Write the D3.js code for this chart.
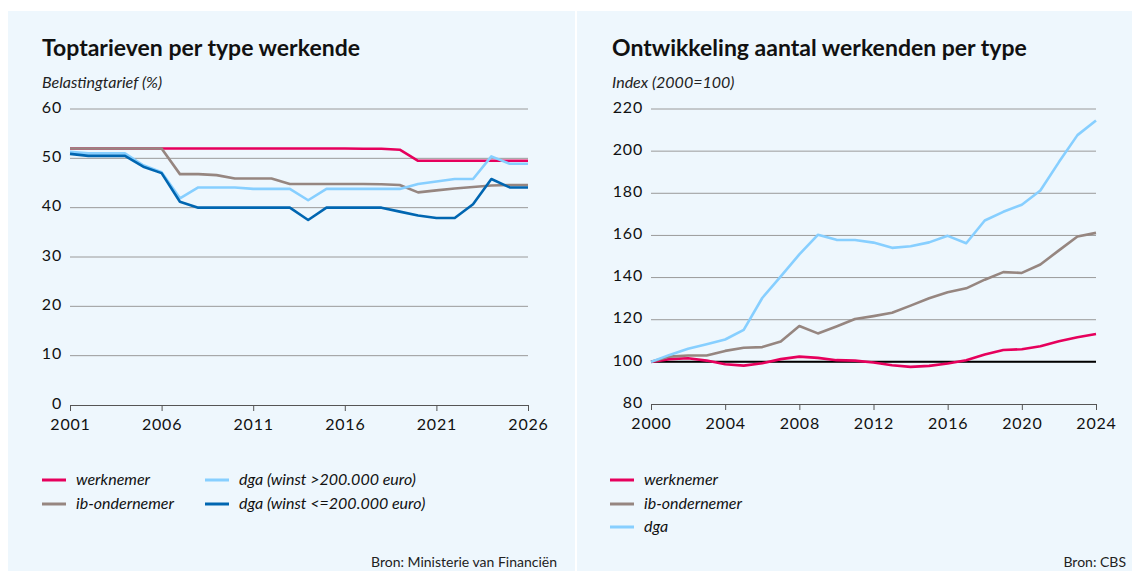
<!DOCTYPE html>
<html>
<head>
<meta charset="utf-8">
<script src="https://cdn.jsdelivr.net/npm/d3@7"></script>
<style>
  body { margin: 0; background: #fff; }
  svg { display: block; font-family: Lato, "Open Sans", sans-serif; }
</style>
</head>
<body>
<div class="charts"></div>
<script>
// linker grafiek: toptarieven (%)
var taxYears = d3.range(2001, 2027);
var taxWerknemer = [52,52,52,52,52,52,52,52,52,52,52,52,52,52,52,52,51.95,51.95,51.75,49.5,49.5,49.5,49.5,49.5,49.5,49.5];
var taxIb = [52,52,52,52,52,52,46.8,46.8,46.6,45.9,45.9,45.9,44.8,44.8,44.8,44.8,44.8,44.75,44.6,43.1,43.5,43.9,44.2,44.5,44.6,44.6];
var taxDgaHoog = [51.3,51,51,51,48.6,47.2,41.9,44.1,44.1,44.1,43.8,43.8,43.8,41.5,43.8,43.8,43.8,43.8,43.8,44.8,45.3,45.8,45.8,50.4,48.9,48.9];
var taxDgaLaag = [50.9,50.5,50.5,50.5,48.3,47,41.2,40,40,40,40,40,40,37.5,40,40,40,40,39.2,38.4,37.9,37.9,40.7,45.8,44.1,44.1];
var taxTicks = [0,10,20,30,40,50,60];
var taxYearTicks = [2001,2006,2011,2016,2021,2026];

// rechter grafiek: index aantal werkenden (2000=100)
var idxYears = d3.range(2000, 2025);
var idxWerknemer = [100,101.3,101.7,100.6,98.9,98.2,99.3,101.3,102.5,101.9,100.8,100.6,99.7,98.4,97.6,98.1,99.2,100.8,103.5,105.6,106,107.4,109.8,111.7,113.2];
var idxIb = [100,102.5,103,103,105.2,106.7,107,109.7,117,113.5,116.8,120.3,121.7,123.3,126.7,130.2,133,134.9,139,142.6,142.2,146.2,152.9,159.5,161.2];
var idxDga = [100,103.3,106.2,108.4,110.6,115.2,130.3,140.6,151,160.3,157.9,157.8,156.6,154.1,154.9,156.7,159.8,156.3,167.1,171.2,174.6,181.3,194.8,207.6,214.5];
var idxTicks = [80,100,120,140,160,180,200,220];
var idxYearTicks = [2000,2004,2008,2012,2016,2020,2024];

var colors = {werknemer:'#e6005c', ib:'#968680', dgaHoog:'#87cfff', dgaLaag:'#0066b1'};

var W = 1132, H = 571;
var svg = d3.select('div.charts').append('svg')
		.attr('width', W)
		.attr('height', H);

function panel(opt){
	var g = svg.append('g');
	g.append('rect')
		.attr('x', opt.bx).attr('y', 11)
		.attr('width', opt.bw).attr('height', H-11)
		.attr('fill', '#eef7fd');

	g.append('text')
		.attr('x', opt.tx).attr('y', 56)
		.attr('font-size', '23px').attr('font-weight', 'bold')
		.attr('fill', '#111')
		.text(opt.title);
	g.append('text')
		.attr('x', opt.tx).attr('y', 88)
		.attr('font-size', '16px').attr('font-style', 'italic')
		.attr('fill', '#222')
		.text(opt.unit);

	var x = d3.scaleLinear().domain(opt.xDomain).range([opt.x0, opt.x1]);
	var y = d3.scaleLinear().domain(opt.yDomain).range([opt.y0, opt.y1]);

	// rasterlijnen
	g.append('g')
		.selectAll('line')
		.data(opt.yTicks.slice(1))
		.enter()
		.append('line')
		.attr('x1', opt.x0).attr('x2', opt.x1)
		.attr('y1', function(d){ return y(d); })
		.attr('y2', function(d){ return y(d); })
		.attr('stroke', '#9a9a9a').attr('stroke-width', 1);

	var yAxis = g.append('g')
		.attr('transform', 'translate(' + opt.x0 + ',0)')
		.call(d3.axisLeft(y).tickValues(opt.yTicks).tickSize(0).tickPadding(8));
	yAxis.select('.domain').remove();
	yAxis.selectAll('.tick text').attr('dy', '0.2em');

	var xAxis = g.append('g')
		.attr('transform', 'translate(0,' + opt.y0 + ')')
		.call(d3.axisBottom(x).tickValues(opt.xTicks).tickFormat(d3.format('d')).tickSize(6).tickSizeOuter(0).tickPadding(8));
	xAxis.select('.domain').attr('stroke', '#555').attr('stroke-width', 1.2);
	xAxis.selectAll('.tick line').attr('stroke', '#555');

	g.selectAll('.tick text')
		.attr('font-family', 'Lato, sans-serif')
		.attr('font-size', '16px')
		.attr('letter-spacing', '0.8px')
		.attr('fill', '#111');

	if(opt.baseline){
		g.append('line')
			.attr('x1', opt.x0).attr('x2', opt.x1)
			.attr('y1', y(opt.baseline)).attr('y2', y(opt.baseline))
			.attr('stroke', '#000').attr('stroke-width', 2);
	}

	var line = d3.line()
		.x(function(d){ return x(d[0]); })
		.y(function(d){ return y(d[1]); });

	opt.series.forEach(function(s){
		g.append('path')
			.datum(opt.years.map(function(yr, i){ return [yr, s.values[i]]; }))
			.attr('d', line)
			.attr('fill', 'none')
			.attr('stroke', s.color)
			.attr('stroke-width', 2.6)
			.attr('stroke-linejoin', 'round');
	});

	// legenda
	opt.legend.forEach(function(l){
		g.append('line')
			.attr('x1', l.x).attr('x2', l.x + 24)
			.attr('y1', l.y).attr('y2', l.y)
			.attr('stroke', l.color).attr('stroke-width', 3);
		g.append('text')
			.attr('x', l.x + 34).attr('y', l.y + 5)
			.attr('font-size', '16px').attr('font-style', 'italic')
			.attr('fill', '#111')
			.text(l.label);
	});

	g.append('text')
		.attr('x', opt.srcX).attr('y', 567)
		.attr('text-anchor', 'end')
		.attr('font-size', '14px')
		.attr('fill', '#222')
		.text(opt.source);
}

panel({
	bx: 8, bw: 567, tx: 42,
	title: 'Toptarieven per type werkende',
	unit: 'Belastingtarief (%)',
	x0: 70, x1: 528, y0: 405, y1: 109,
	xDomain: [2001, 2026], yDomain: [0, 60],
	yTicks: taxTicks, xTicks: taxYearTicks,
	years: taxYears,
	series: [
		{values: taxWerknemer, color: colors.werknemer},
		{values: taxIb, color: colors.ib},
		{values: taxDgaHoog, color: colors.dgaHoog},
		{values: taxDgaLaag, color: colors.dgaLaag}
	],
	legend: [
		{x: 42, y: 480, color: colors.werknemer, label: 'werknemer'},
		{x: 42, y: 504, color: colors.ib, label: 'ib-ondernemer'},
		{x: 205, y: 480, color: colors.dgaHoog, label: 'dga (winst >200.000 euro)'},
		{x: 205, y: 504, color: colors.dgaLaag, label: 'dga (winst <=200.000 euro)'}
	],
	srcX: 557, source: 'Bron: Ministerie van Financiën'
});

panel({
	bx: 577, bw: 555, tx: 612,
	title: 'Ontwikkeling aantal werkenden per type',
	unit: 'Index (2000=100)',
	x0: 651, x1: 1096, y0: 404, y1: 109,
	xDomain: [2000, 2024], yDomain: [80, 220],
	yTicks: idxTicks, xTicks: idxYearTicks,
	years: idxYears,
	baseline: 100,
	series: [
		{values: idxWerknemer, color: colors.werknemer},
		{values: idxIb, color: colors.ib},
		{values: idxDga, color: colors.dgaHoog}
	],
	legend: [
		{x: 610, y: 480, color: colors.werknemer, label: 'werknemer'},
		{x: 610, y: 504, color: colors.ib, label: 'ib-ondernemer'},
		{x: 610, y: 527, color: colors.dgaHoog, label: 'dga'}
	],
	srcX: 1126, source: 'Bron: CBS'
});
</script>
</body>
</html>
